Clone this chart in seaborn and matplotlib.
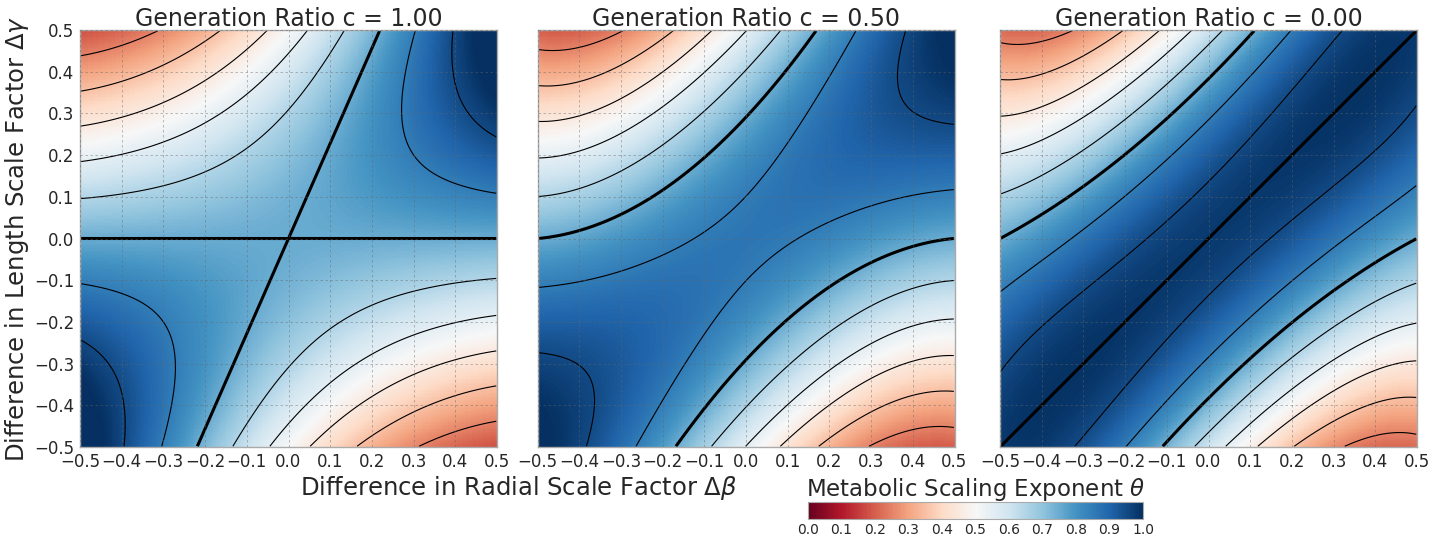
import numpy as np
import pandas as pd
import matplotlib
matplotlib.use("Agg")
import matplotlib.pyplot as plt
import seaborn as sns

# Panels: generation ratio c
c_values = [1.00, 0.50, 0.00]

# Thick theta = 3/4 curve of each panel, y = g(x)
g_const = [0.0, 0.291, 0.383]
g_lin = [1.14, 1.07, 1.00]
g_quad = [0.0, 0.975, 0.467]
g_abs = [1.14, 0.0, 0.0]
# how fast theta moves away from 3/4 inside the panel (edges x = +-0.5 fixed)
edge_stretch = [-0.95, -2.0, -2.8]
# panel with the thick symmetric line d_beta = d_gamma
ridge_line = [False, False, True]

# theta as a function of the product of the two 3/4 curves
theta_saddle = 0.75
theta_slope = 0.872
theta_curve = 0.215

thin_levels = [0.05, 0.15, 0.25, 0.35, 0.45, 0.55, 0.65, 0.85, 0.95]
thick_levels = [0.75]
tick_values = np.round(np.arange(-0.5, 0.51, 0.1), 1) + 0.0
cbar_ticks = np.round(np.arange(0.0, 1.01, 0.1), 1)

n = 300
xc = -0.5 + (np.arange(n) + 0.5) / n
yc = 0.5 - (np.arange(n) + 0.5) / n  # top row first, like the heatmap
X, Y = np.meshgrid(xc, yc)


def g_curve(i, x):
    return g_const[i] + g_lin[i] * x + g_quad[i] * x ** 2 + g_abs[i] * np.abs(x)


def theta_field(i):
    stretch = 1 + edge_stretch[i] * (X ** 2 - 0.25)
    s = (Y - g_curve(i, X)) * (Y + g_curve(i, -X)) * stretch
    th = theta_saddle - theta_slope * s + theta_curve * s ** 2
    return np.clip(th, 0, 1)


def tick_text(v):
    return f"{v:.1f}".replace("-", "\u2212")


sns.set_style("white")
plt.rcParams["font.family"] = ["DejaVu Sans"]
cmap = sns.color_palette("RdBu", as_cmap=True)

fig = plt.figure(figsize=(14.46, 5.38), dpi=100)
lefts = [80 / 1446, 537.5 / 1446, 1000 / 1446]
cell = np.arange(n) + 0.5

for i, c in enumerate(c_values):
    ax = fig.add_axes([lefts[i], 91 / 538, 417 / 1446, 417 / 538])
    Z = theta_field(i)
    sns.heatmap(pd.DataFrame(Z), ax=ax, cmap=cmap, vmin=0, vmax=1, cbar=False,
                xticklabels=False, yticklabels=False)
    ax.contour(cell, cell, Z, levels=thin_levels, colors="black", linewidths=0.8)
    ax.contour(cell, cell, Z, levels=thick_levels, colors="black", linewidths=2.2)
    if ridge_line[i]:
        R = 2 * Y - (g_curve(i, X) - g_curve(i, -X))
        ax.contour(cell, cell, R, levels=[0], colors="black", linewidths=2.2)

    ax.set_xticks((tick_values + 0.5) * n)
    ax.set_xticklabels([tick_text(v) for v in tick_values], fontsize=12)
    ax.set_yticks((0.5 - tick_values) * n)
    if i == 0:
        ax.set_yticklabels([tick_text(v) for v in tick_values], fontsize=12)
        ax.set_ylabel(r"Difference in Length Scale Factor $\Delta\gamma$", fontsize=17.5, labelpad=2)
    else:
        ax.set_yticklabels([])
    ax.tick_params(length=0, pad=4)
    ax.set_xlim(0, n)
    ax.set_ylim(n, 0)
    ax.grid(True, color="#666666", linestyle=(0, (3, 3)), linewidth=0.6, alpha=0.5)
    ax.set_axisbelow(False)
    for sp in ax.spines.values():
        sp.set_visible(True)
        sp.set_color("#aaaaaa")
        sp.set_linewidth(1.0)
    ax.set_title(f"Generation Ratio c = {c:.2f}", fontsize=17, pad=3)

fig.text(519 / 1446, 1 - 488 / 538, r"Difference in Radial Scale Factor $\Delta\beta$",
         ha="center", va="center", fontsize=17.5)

cax = fig.add_axes([808 / 1446, 19 / 538, 335 / 1446, 17.5 / 538])
sm = plt.cm.ScalarMappable(cmap=cmap, norm=plt.Normalize(0, 1))
cbar = fig.colorbar(sm, cax=cax, orientation="horizontal", ticks=cbar_ticks)
cbar.set_label(r"Metabolic Scaling Exponent $\theta$", fontsize=16.5, labelpad=4)
cax.xaxis.set_label_position("top")
cax.tick_params(labelsize=10, length=0, pad=3)
cbar.outline.set_edgecolor("#aaaaaa")

fig.savefig("out.png", dpi=100)
